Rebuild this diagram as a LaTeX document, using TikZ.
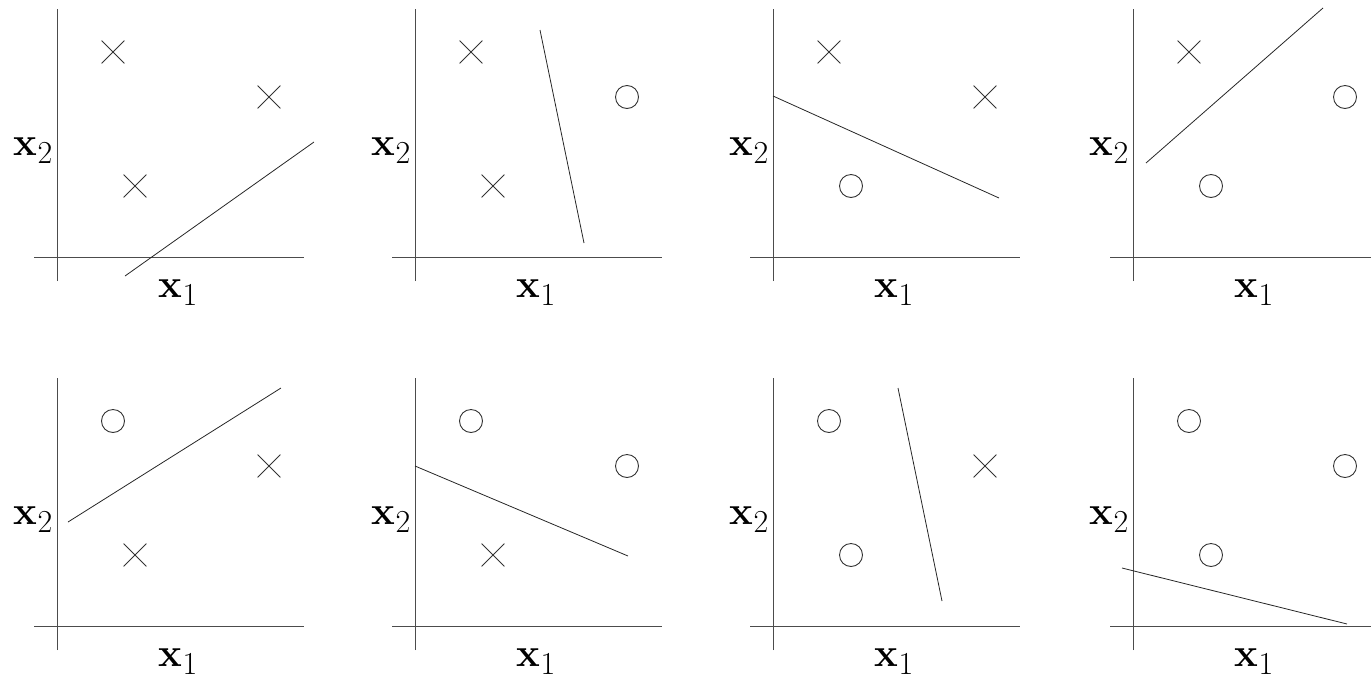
\documentclass[tikz,border=0pt]{standalone}
\usepackage{fontspec}
\usetikzlibrary{shapes.misc}
\newcommand{\xlab}[1]{{\fontsize{40}{46}\selectfont\bfseries x}\raisebox{-8pt}{\fontsize{32}{34}\selectfont #1}}
\begin{document}
\begin{tikzpicture}[x=1pt,y=-1pt,
  axis/.style={line width=0.9pt, black!70},
  sep/.style={line width=0.8pt, black!85},
  xm/.style={cross out, draw, black!80, minimum size=22pt, inner sep=0pt, line width=0.8pt},
  om/.style={circle, draw, black!80, minimum size=23pt, inner sep=0pt, line width=0.9pt},
  lab/.style={inner sep=0pt}]
\useasboundingbox (0,0) rectangle (1371,681);
\newcommand{\mypanel}[9]{%
  \begin{scope}[shift={(#2,#3)}]
    \coordinate (#1yt) at (57,9);
    \coordinate (#1yb) at (57,281);
    \coordinate (#1xl) at (34,257);
    \coordinate (#1xr) at (304,257);
    \draw[axis] (#1yb) -- (#1yt);
    \draw[axis] (#1xl) -- (#1xr);
    \node[lab] (#1lx) at (178,293) {\xlab{1}};
    \node[lab] (#1ly) at (33,151) {\xlab{2}};
    \node[#4] (#1a) at (113,52) {};
    \node[#5] (#1b) at (269,97) {};
    \node[#6] (#1c) at (135,186) {};
    \coordinate (#1s) at #7;
    \coordinate (#1e) at #8;
    \draw[sep] (#1s) -- (#1e);
  \end{scope}}
\mypanel{pa}{0}{0}{xm}{xm}{xm}{(125,276)}{(314,142)}{}
\mypanel{pb}{358}{0}{xm}{om}{xm}{(182,30)}{(226,243)}{}
\mypanel{pc}{716}{0}{xm}{xm}{om}{(57,96)}{(283,198)}{}
\mypanel{pd}{1076}{0}{xm}{om}{om}{(70,163)}{(247,8)}{}
\mypanel{pe}{0}{369}{om}{xm}{xm}{(68,153)}{(281,19)}{}
\mypanel{pf}{358}{369}{om}{om}{xm}{(57,97)}{(270,187)}{}
\mypanel{pg}{716}{369}{om}{xm}{om}{(182,19)}{(226,232)}{}
\mypanel{ph}{1076}{369}{om}{om}{om}{(46,199)}{(271,255)}{}
\end{tikzpicture}
\end{document}
